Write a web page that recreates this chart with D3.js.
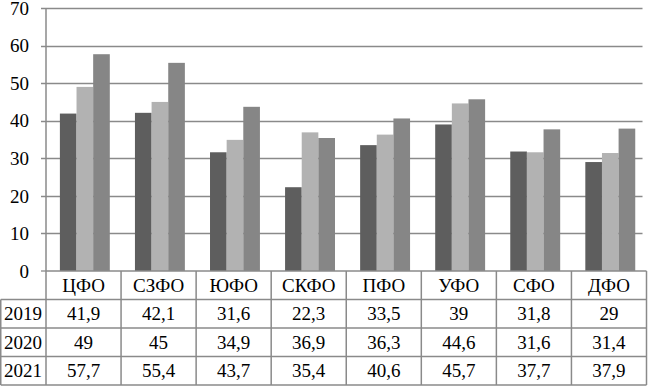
<!DOCTYPE html>
<html>
<head>
<meta charset="utf-8">
<script src="https://cdn.jsdelivr.net/npm/d3@7"></script>
</head>
<body style="margin:0;background:#fff">
<svg id="chart" width="648" height="386" style="display:block"></svg>
<script>
// ─── Data ─────────────────────────────────────────────────────────────────────
const districts = ["ЦФО", "СЗФО", "ЮФО", "СКФО", "ПФО", "УФО", "СФО", "ДФО"];
const years = ["2019", "2020", "2021"];
const values2019 = [41.9, 42.1, 31.6, 22.3, 33.5, 39, 31.8, 29];
const values2020 = [49, 45, 34.9, 36.9, 36.3, 44.6, 31.6, 31.4];
const values2021 = [57.7, 55.4, 43.7, 35.4, 40.6, 45.7, 37.7, 37.9];
const yTicks = [0, 10, 20, 30, 40, 50, 60, 70];

const seriesValues = [values2019, values2020, values2021];
const seriesColors = ["#5e5e5e", "#b2b2b2", "#868686"];

const svg = d3.select("#chart");
const plotLeft = 46, plotRight = 646.5, plotTop = 8, plotBottom = 271;
const rowHeight = 28.5;
const lineColor = "#8a8a8a";
const fontSize = 19;
const serif = '"Liberation Serif"';

// Helper so every label uses the same serif face
function label(sel) {
    return sel.style("font-family", serif)
        .style("font-size", fontSize + "px")
        .attr("fill", "#000")
        .attr("dy", "0.35em");
}

// ─── Scales ───────────────────────────────────────────────────────────────────
const x = d3.scaleBand().domain(districts).range([plotLeft, plotRight]);
const xInner = d3.scaleBand().domain(years)
    .range([x.bandwidth() * 0.185, x.bandwidth() * 0.85]);
const y = d3.scaleLinear().domain([0, 70]).range([plotBottom, plotTop]);

// Gridlines (no line at zero, the table top takes that place)
svg.append("g")
    .selectAll("line")
    .data(yTicks.filter(t => t > 0))
    .join("line")
    .attr("x1", plotLeft - 5)
    .attr("x2", plotRight - 4)
    .attr("y1", d => Math.round(y(d)) + 0.5)
    .attr("y2", d => Math.round(y(d)) + 0.5)
    .attr("stroke", lineColor)
    .attr("stroke-width", 1.3);

// Zero tick
svg.append("line")
    .attr("x1", plotLeft - 5).attr("x2", plotLeft)
    .attr("y1", y(0)).attr("y2", y(0))
    .attr("stroke", lineColor).attr("stroke-width", 1.3);

// Y tick labels
svg.append("g")
    .selectAll("text")
    .data(yTicks)
    .join("text")
    .attr("x", 29)
    .attr("y", d => y(d) + (d === 70 ? 0.5 : 0))
    .attr("text-anchor", "end")
    .call(label)
    .text(d => d);

// ─── Bars ─────────────────────────────────────────────────────────────────────
const groups = svg.append("g")
    .selectAll("g")
    .data(districts)
    .join("g")
    .attr("transform", d => `translate(${x(d)},0)`);

groups.selectAll("rect")
    .data((d, i) => years.map((yr, s) => ({ year: yr, value: seriesValues[s][i], s })))
    .join("rect")
    .attr("x", d => xInner(d.year))
    .attr("width", xInner.bandwidth())
    .attr("y", d => y(d.value))
    .attr("height", d => y(0) - y(d.value))
    .attr("fill", d => seriesColors[d.s]);

// ─── Data table ──────────────────────────────────────────────────────────────
const table = svg.append("g");
const tableBottom = plotBottom + rowHeight * 4;

// Horizontal lines: top of header (from axis), then rows (full width)
table.append("line")
    .attr("x1", plotLeft).attr("x2", plotRight)
    .attr("y1", plotBottom).attr("y2", plotBottom)
    .attr("stroke", lineColor).attr("stroke-width", 1.5);

table.selectAll("line.row")
    .data(d3.range(1, 5))
    .join("line")
    .attr("class", "row")
    .attr("x1", 0.75).attr("x2", plotRight)
    .attr("y1", i => plotBottom + rowHeight * i)
    .attr("y2", i => plotBottom + rowHeight * i)
    .attr("stroke", lineColor).attr("stroke-width", 1.5);

// Vertical lines: category borders down through the table
table.selectAll("line.col")
    .data(districts.map(d => x(d)).concat([plotRight]))
    .join("line")
    .attr("class", "col")
    .attr("x1", d => d).attr("x2", d => d)
    .attr("y1", (d, i) => i === 0 ? plotTop : plotBottom)
    .attr("y2", tableBottom)
    .attr("stroke", lineColor).attr("stroke-width", 1.5);

// Left border of the year column
table.append("line")
    .attr("x1", 0.75).attr("x2", 0.75)
    .attr("y1", plotBottom + rowHeight).attr("y2", tableBottom)
    .attr("stroke", lineColor).attr("stroke-width", 1.5);

// Header labels
table.selectAll("text.head")
    .data(districts)
    .join("text")
    .attr("class", "head")
    .attr("x", d => x(d) + x.bandwidth() / 2)
    .attr("y", plotBottom + rowHeight / 2)
    .attr("text-anchor", "middle")
    .call(label)
    .text(d => d);

// Year labels
table.selectAll("text.year")
    .data(years)
    .join("text")
    .attr("class", "year")
    .attr("x", plotLeft / 2)
    .attr("y", (d, i) => plotBottom + rowHeight * (i + 1.5))
    .attr("text-anchor", "middle")
    .call(label)
    .text(d => d);

// Values, with comma as decimal separator
const fmt = v => String(v).replace(".", ",");
years.forEach((yr, s) => {
    table.append("g")
        .selectAll("text")
        .data(districts)
        .join("text")
        .attr("x", d => x(d) + x.bandwidth() / 2)
        .attr("y", plotBottom + rowHeight * (s + 1.5))
        .attr("text-anchor", "middle")
        .call(label)
        .text((d, i) => fmt(seriesValues[s][i]));
});
</script>
</body>
</html>
